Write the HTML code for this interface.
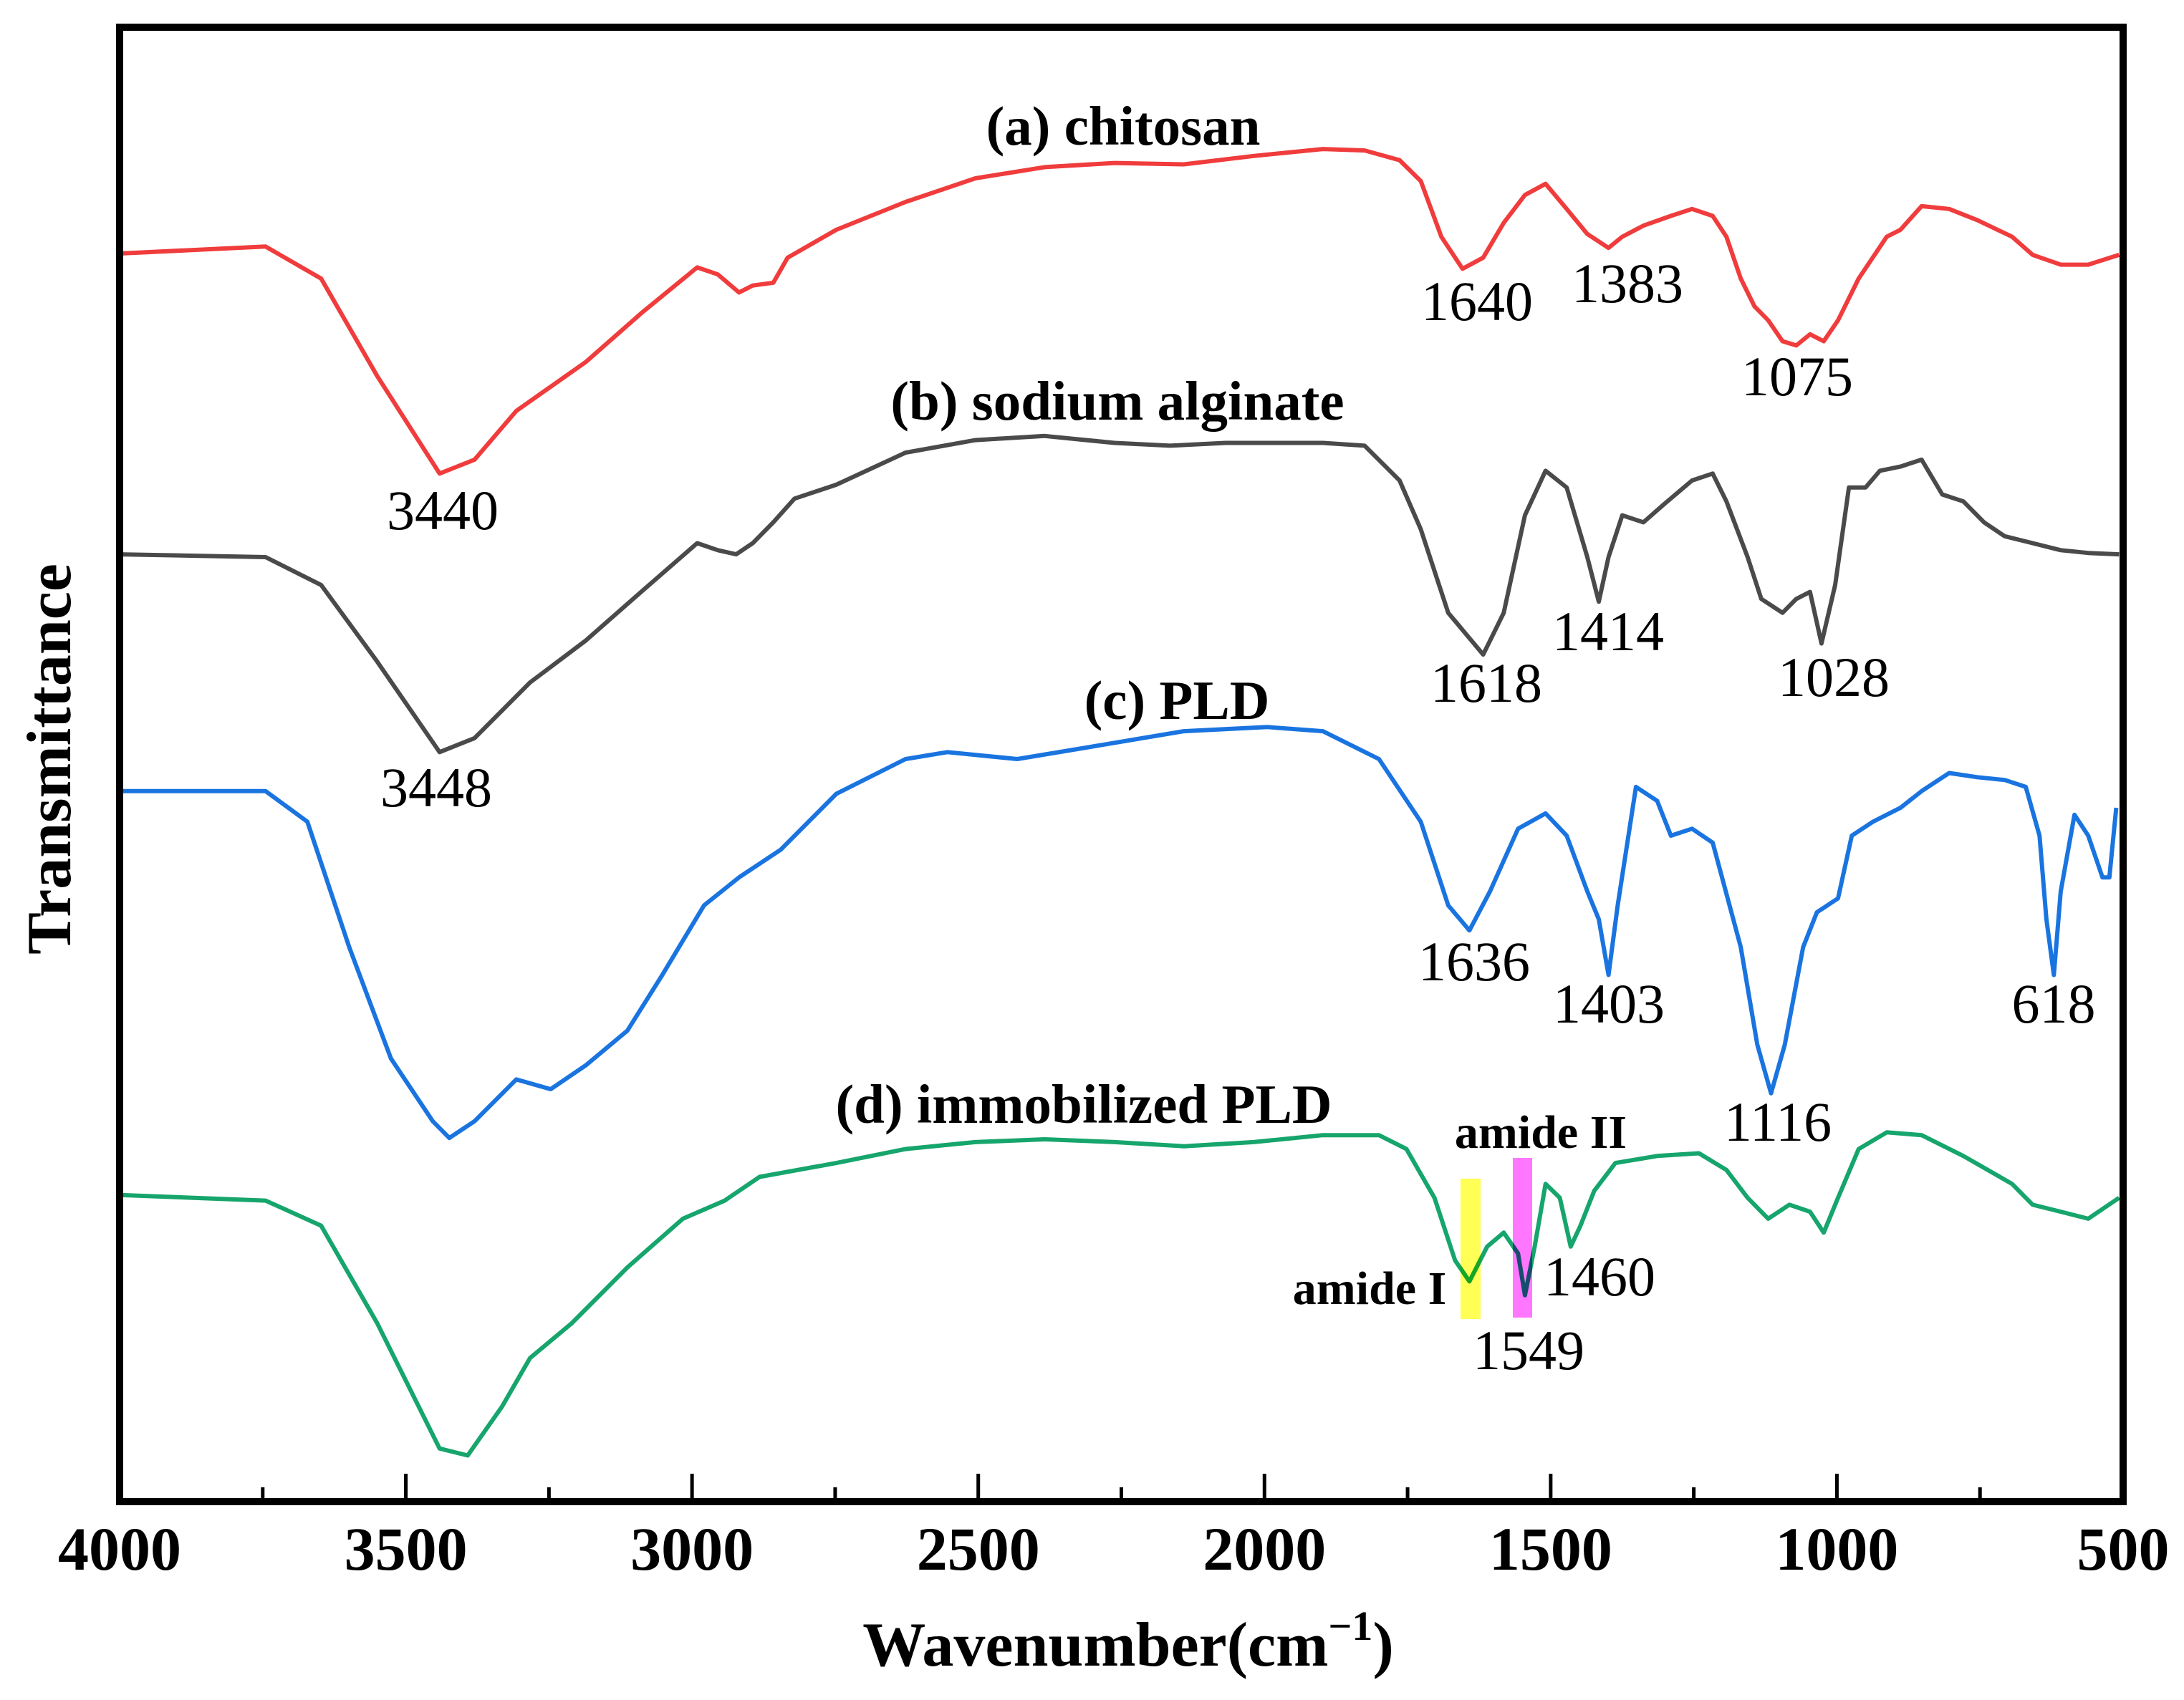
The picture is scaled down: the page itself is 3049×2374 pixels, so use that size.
<!DOCTYPE html>
<html><head><meta charset="utf-8"><style>
html,body{margin:0;padding:0;background:#fff;}
svg{display:block;}
text{font-family:"Liberation Serif",serif;fill:#000;}
.b{font-weight:bold;}
</style></head><body>
<svg id="chart" width="3049" height="2374" viewBox="0 0 3049 2374" xmlns="http://www.w3.org/2000/svg">
<g id="lines"></g>
<rect x="2039" y="1646" width="28" height="196" fill="#ffff55" style="mix-blend-mode:multiply"/>
<rect x="2112" y="1617" width="27" height="223" fill="#ff77ff" style="mix-blend-mode:multiply"/>
<rect x="167" y="38" width="2797" height="2059" fill="none" stroke="#000" stroke-width="10"/>
<g id="ticks"></g>
<g id="labels">
<text class="b" x="1568" y="202" font-size="77" text-anchor="middle">(a) chitosan</text>
<text x="2062" y="447" font-size="78" text-anchor="middle">1640</text>
<text x="2272" y="422" font-size="78" text-anchor="middle">1383</text>
<text x="2509" y="552" font-size="78" text-anchor="middle">1075</text>
<text x="618" y="739" font-size="78" text-anchor="middle">3440</text>
<text class="b" x="1560" y="586" font-size="77" text-anchor="middle">(b) sodium alginate</text>
<text x="2075" y="980" font-size="78" text-anchor="middle">1618</text>
<text x="2245" y="908" font-size="78" text-anchor="middle">1414</text>
<text x="2560" y="972" font-size="78" text-anchor="middle">1028</text>
<text x="609" y="1126" font-size="78" text-anchor="middle">3448</text>
<text class="b" x="1643" y="1004" font-size="77" text-anchor="middle">(c) PLD</text>
<text x="2058" y="1369" font-size="78" text-anchor="middle">1636</text>
<text x="2246" y="1428" font-size="78" text-anchor="middle">1403</text>
<text x="2482" y="1593" font-size="78" text-anchor="middle">1116</text>
<text x="2867" y="1428" font-size="78" text-anchor="middle">618</text>
<text class="b" x="1513" y="1568" font-size="77" text-anchor="middle">(d) immobilized PLD</text>
<text class="b" x="2151" y="1603" font-size="66" text-anchor="middle">amide II</text>
<text class="b" x="1912" y="1821" font-size="66" text-anchor="middle">amide I</text>
<text x="2233" y="1809" font-size="78" text-anchor="middle">1460</text>
<text x="2134" y="1912" font-size="78" text-anchor="middle">1549</text>
<text class="b" x="0" y="0" font-size="88" text-anchor="middle" transform="translate(98,1060) rotate(-90)">Transmittance</text>
<text class="b" x="1575" y="2326" font-size="88" text-anchor="middle">Wavenumber(cm<tspan font-size="58" dy="-36">−1</tspan><tspan dy="36">)</tspan></text>
</g>
</svg>
<script>
const tickValues=[4000,3500,3000,2500,2000,1500,1000,500];
const minorTicks=[3750,3250,2750,2250,1750,1250,750];
const chitosanWn=[4000,3745,3648,3550,3441,3380,3307,3186,3089,2991,2955,2918,2894,2858,2833,2748,2627,2505,2384,2262,2141,2019,1898,1825,1764,1727,1691,1654,1618,1582,1545,1509,1472,1436,1399,1375,1338,1290,1253,1217,1193,1168,1144,1120,1095,1071,1047,1023,998,962,913,889,852,804,755,694,658,609,561,507];
const chitosanT=[89.6,90.1,87.8,80.8,73.8,74.8,78.3,81.8,85.3,88.6,88.1,86.8,87.3,87.5,89.3,91.3,93.3,95.0,95.8,96.1,96.0,96.6,97.1,97.0,96.3,94.8,90.8,88.5,89.3,91.8,93.8,94.6,92.8,91.0,90.0,90.8,91.6,92.3,92.8,92.3,90.8,87.8,85.8,84.8,83.3,83.0,83.8,83.3,84.8,87.8,90.8,91.3,93.0,92.8,92.0,90.8,89.5,88.8,88.8,89.5];
const alginateWn=[4000,3745,3648,3550,3441,3380,3283,3186,3089,2991,2955,2923,2894,2858,2821,2748,2627,2505,2384,2262,2165,2068,1898,1825,1764,1727,1679,1618,1582,1545,1509,1472,1436,1416,1399,1375,1338,1302,1253,1217,1193,1156,1132,1095,1071,1047,1027,1003,979,950,925,889,852,816,779,743,707,658,609,561,507];
const alginateT=[68.0,67.8,65.8,60.3,53.8,54.8,58.8,61.8,65.3,68.8,68.3,68.0,68.8,70.3,72.0,73.0,75.3,76.2,76.5,76.0,75.8,76.0,76.0,75.8,73.3,69.8,63.8,60.8,63.8,70.8,74.0,72.8,67.8,64.6,67.8,70.8,70.3,71.6,73.3,73.8,71.8,67.8,64.8,63.8,64.8,65.3,61.6,65.8,72.8,72.8,74.0,74.3,74.8,72.3,71.8,70.3,69.3,68.8,68.3,68.1,68.0];
const pldWn=[4000,3745,3672,3599,3526,3453,3424,3380,3307,3247,3186,3113,3052,2979,2918,2845,2748,2627,2554,2432,2286,2141,1995,1898,1800,1727,1679,1642,1606,1557,1509,1472,1436,1416,1399,1383,1351,1314,1290,1253,1217,1168,1139,1115,1091,1059,1035,998,974,937,889,852,804,755,707,670,646,634,621,609,585,561,536,524,512];
const pldT=[51.0,51.0,48.8,39.8,31.8,27.3,26.1,27.3,30.3,29.6,31.3,33.8,37.8,42.8,44.8,46.8,50.8,53.3,53.8,53.3,54.3,55.3,55.6,55.3,53.3,48.8,42.8,41.0,43.8,48.3,49.4,47.8,43.8,41.8,37.8,42.8,51.3,50.3,47.8,48.3,47.3,39.8,32.8,29.3,32.8,39.8,42.3,43.3,47.8,48.8,49.8,51.0,52.3,52.0,51.8,51.3,47.8,41.8,37.8,43.8,49.3,47.8,44.8,44.8,49.8];
const immWn=[4000,3745,3648,3550,3441,3392,3332,3283,3210,3113,3016,2943,2882,2748,2627,2505,2384,2262,2141,2019,1898,1800,1752,1703,1667,1642,1611,1582,1557,1545,1528,1509,1484,1465,1448,1424,1387,1314,1241,1193,1156,1120,1083,1047,1023,998,962,913,852,779,694,658,609,561,507];
const immT=[22.0,21.6,19.8,12.8,3.8,3.3,6.8,10.3,12.8,16.8,20.3,21.6,23.3,24.3,25.3,25.8,26.0,25.8,25.5,25.8,26.3,26.3,25.3,21.8,17.3,15.8,18.3,19.3,17.8,14.8,18.3,22.8,21.8,18.3,19.8,22.3,24.3,24.8,25.0,23.8,21.8,20.3,21.3,20.8,19.3,21.8,25.3,26.5,26.3,24.8,22.8,21.3,20.8,20.3,21.8];

const NS='http://www.w3.org/2000/svg';
function xScale(w){return 167+(4000-w)*(2964-167)/3500;}
function yScale(t){return (107.8-t)*19.45;}
const lines=document.getElementById('lines');
function drawSeries(wn,t,color,name){
  const p=document.createElementNS(NS,'path');
  let d='';
  for(let i=0;i<wn.length;i++){d+=(i?'L':'M')+xScale(wn[i]).toFixed(1)+' '+yScale(t[i]).toFixed(1);}
  p.setAttribute('d',d);
  p.setAttribute('fill','none');
  p.setAttribute('stroke',color);
  p.setAttribute('stroke-width','6');
  p.setAttribute('stroke-linejoin','round');
  
  
  lines.appendChild(p);
}
drawSeries(chitosanWn,chitosanT,'#f03c3c','chitosan-line');
drawSeries(alginateWn,alginateT,'#4a4a4a','sodium-alginate-line');
drawSeries(pldWn,pldT,'#1a74e0','pld-line');
drawSeries(immWn,immT,'#16a56c','immobilized-pld-line');

const ticks=document.getElementById('ticks');
tickValues.forEach(v=>{
  const x=xScale(v);
  if(v!==4000&&v!==500){
    const l=document.createElementNS(NS,'line');
    l.setAttribute('x1',x);l.setAttribute('x2',x);l.setAttribute('y1',2097);l.setAttribute('y2',2058);
    l.setAttribute('stroke','#000');l.setAttribute('stroke-width','5');
    
    
    ticks.appendChild(l);
  }
  const t=document.createElementNS(NS,'text');
  t.setAttribute('x',x);t.setAttribute('y',2192);
  t.setAttribute('font-size','86');t.setAttribute('font-weight','bold');t.setAttribute('text-anchor','middle');
  t.textContent=v;
  
  
  ticks.appendChild(t);
});
minorTicks.forEach(v=>{
  const x=xScale(v);
  const l=document.createElementNS(NS,'line');
  l.setAttribute('x1',x);l.setAttribute('x2',x);l.setAttribute('y1',2097);l.setAttribute('y2',2077);
  l.setAttribute('stroke','#000');l.setAttribute('stroke-width','5');
  
  
  ticks.appendChild(l);
});
</script>
</body></html>
